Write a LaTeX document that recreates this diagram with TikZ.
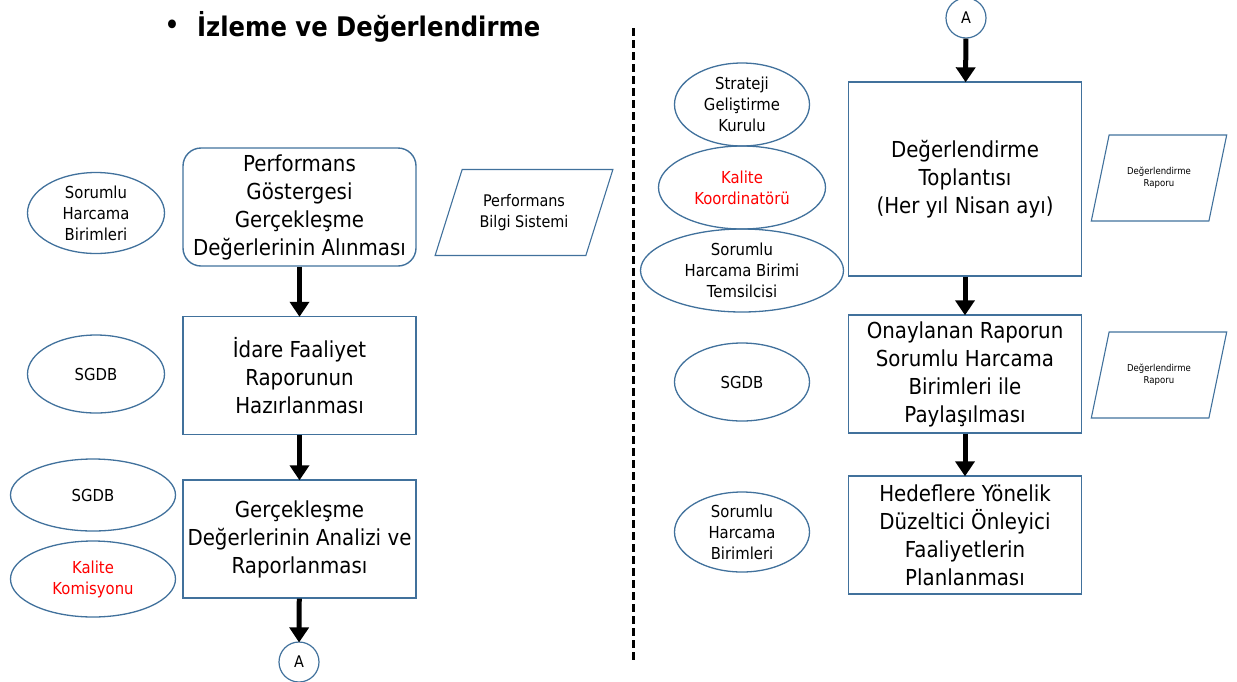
\documentclass[tikz,border=0pt]{standalone}
\usepackage{fontspec}
\setmainfont{DejaVu Sans}[FakeStretch=0.9]
\usetikzlibrary{shapes.geometric,arrows.meta}
\definecolor{boxblue}{HTML}{41719C}
\definecolor{redtext}{HTML}{FF0000}
\tikzset{
  stepbox/.style={draw=boxblue, line width=1.4pt, minimum width=233pt, minimum height=118pt,
    inner sep=0pt, align=center, font=\fontsize{22}{28}\selectfont},
  unitoval/.style={ellipse, draw=boxblue, line width=1.3pt, inner sep=0pt, align=center,
    font=\fontsize{16.5}{21}\selectfont},
  docbox/.style={trapezium, trapezium left angle=62, trapezium right angle=118,
    trapezium stretches=true, draw=boxblue, line width=1.1pt, minimum width=178pt,
    minimum height=86pt, inner sep=0pt, align=center, font=\fontsize{16}{21}\selectfont},
  linkcircle/.style={circle, draw=boxblue, line width=1.2pt, minimum size=40pt, inner sep=0pt,
    font=\fontsize{16}{18}\selectfont},
  flowarrow/.style={line width=5pt, -{Triangle[length=15pt,width=19pt]}, shorten >=-1pt}
}
\begin{document}
\begin{tikzpicture}[x=1pt, y=-1pt]
		\useasboundingbox (0,0) rectangle (1237,681);
		% Baslik
		\node (bullet) at (172,28) {\fontsize{30}{30}\selectfont\textbullet};
		\node[anchor=west, inner sep=0pt] (title) at (197,27)
		{\fontsize{27}{30}\selectfont\bfseries İzleme ve Değerlendirme};
		
		% Ayirici cizgi
		\draw[line width=3pt, dash pattern=on 8pt off 4pt] (633,28) -- (633,662);
		
		% Sol sutun
		\node[stepbox, rounded corners=18pt] (gosterge) at (299.5,207)
		{Performans\\Göstergesi\\Gerçekleşme\\Değerlerinin Alınması};
		\node[stepbox] (idare) at (299.5,375.5)
		{İdare Faaliyet\\Raporunun\\Hazırlanması};
		\node[stepbox] (analiz) at (299.5,539)
		{Gerçekleşme\\Değerlerinin Analizi ve\\Raporlanması};
		\node[linkcircle] (aout) at (299,662) {A};
		
		\node[unitoval, minimum width=137pt, minimum height=81pt] (shb1) at (96,213)
		{Sorumlu\\Harcama\\Birimleri};
		\node[unitoval, minimum width=137pt, minimum height=78pt] (sgdb1) at (96,374) {SGDB};
		\node[unitoval, minimum width=165pt, minimum height=72pt] (sgdb2) at (93,495) {SGDB};
		\node[unitoval, minimum width=165pt, minimum height=76pt, text=redtext] (kkom) at (93,579)
		{Kalite\\Komisyonu};
		
		\node[docbox] (pbs) at (524,212.5) {Performans\\Bilgi Sistemi};
		
		\draw[flowarrow] (gosterge) -- (idare);
		\draw[flowarrow] (idare) -- (analiz);
		\draw[flowarrow] (analiz) -- (aout);
		
		% Sag sutun
		\node[linkcircle] (ain) at (966,18) {A};
		\node[stepbox, minimum height=194pt] (toplanti) at (965,179)
		{Değerlendirme\\Toplantısı\\(Her yıl Nisan ayı)};
		\node[stepbox] (paylas) at (965,374)
		{Onaylanan Raporun\\Sorumlu Harcama\\Birimleri ile\\Paylaşılması};
		\node[stepbox] (planla) at (965,535)
		{Hedeflere Yönelik\\Düzeltici Önleyici\\Faaliyetlerin\\Planlanması};
		
		\node[unitoval, minimum width=135pt, minimum height=83pt] (sgk) at (742,104.5)
		{Strateji\\Geliştirme\\Kurulu};
		\node[unitoval, minimum width=167pt, minimum height=83pt, text=redtext] (kkoord) at (742,187.5)
		{Kalite\\Koordinatörü};
		\node[unitoval, minimum width=203pt, minimum height=83pt] (shbt) at (742,270.5)
		{Sorumlu\\Harcama Birimi\\Temsilcisi};
		\node[unitoval, minimum width=135pt, minimum height=78pt] (sgdb3) at (742,382) {SGDB};
		\node[unitoval, minimum width=135pt, minimum height=80pt] (shb2) at (742,532)
		{Sorumlu\\Harcama\\Birimleri};
		
		\node[docbox, minimum width=136pt, font=\fontsize{9.5}{12}\selectfont] (rapor1) at (1159,178)
		{Değerlendirme\\Raporu};
		\node[docbox, minimum width=136pt, font=\fontsize{9.5}{12}\selectfont] (rapor2) at (1159,375)
		{Değerlendirme\\Raporu};
		
		\draw[flowarrow] (ain) -- (toplanti);
		\draw[flowarrow] (toplanti) -- (paylas);
		\draw[flowarrow] (paylas) -- (planla);
\end{tikzpicture}
\end{document}
